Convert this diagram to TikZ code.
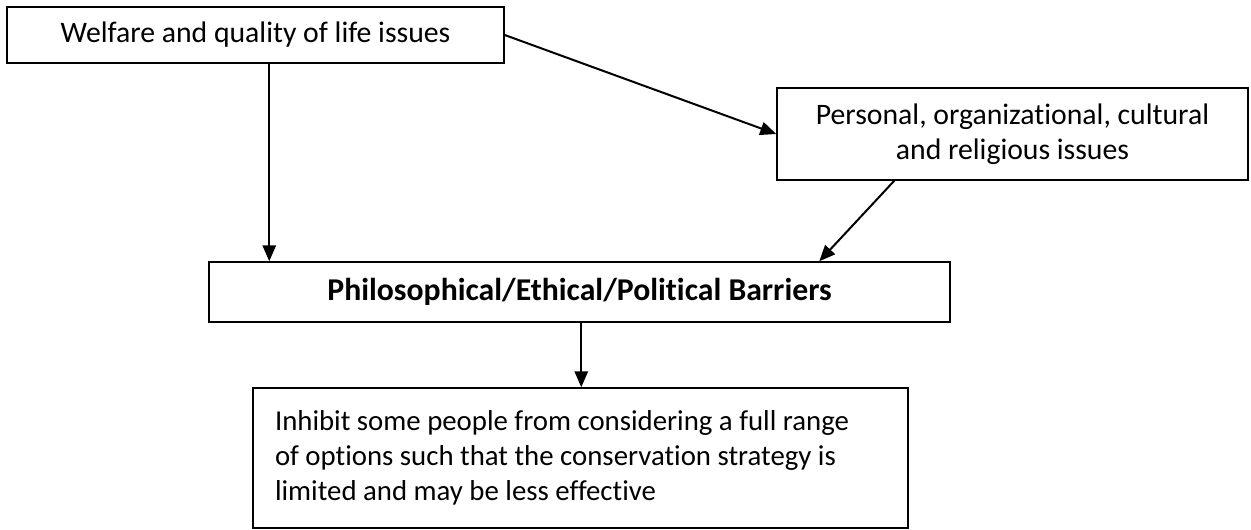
\documentclass[tikz,border=0pt]{standalone}
\usepackage{fontspec}
\setmainfont{Carlito}[Ligatures=NoCommon]
\usetikzlibrary{arrows.meta,calc}
\tikzset{
  box/.style={draw=black, line width=1.1pt, inner sep=0pt, align=center,
    font=\fontsize{22.3}{26.5}\selectfont},
  arr/.style={line width=1.5pt, -{Triangle[length=12pt,width=10pt]}}
}
\begin{document}
\begin{tikzpicture}[x=0.75pt,y=-0.75pt]
\useasboundingbox (0,0) rectangle (1251,529);
\node[box, minimum width=497*0.75pt, minimum height=56*0.75pt] (b1) at (255.5,35)
  {Welfare and quality of life issues};
\node[box, minimum width=471*0.75pt, minimum height=92*0.75pt] (b2) at (1012.5,134)
  {Personal, organizational, cultural\\and religious issues};
\node[box, minimum width=741*0.75pt, minimum height=60*0.75pt, font=\fontsize{23.8}{28}\selectfont\bfseries] (b3) at (579.5,292)
  {Philosophical/Ethical/Political Barriers};
\node[box, minimum width=655*0.75pt, minimum height=140*0.75pt, text width=611*0.75pt, align=flush left, font=\fontsize{21.6}{26.3}\selectfont] (b4) at (580.5,458)
  {Inhibit some people from considering a full range\\of options such that the conservation strategy is\\limited and may be less effective};
\draw[arr] (b1.east) -- (b2.west);
\coordinate (s1) at ($(b1.south west)+(263,0)$);
\draw[arr] (s1) -- (s1 |- b3.north);
\draw[arr] ($(b2.south west)+(118,0)$) -- ($(b3.north west)+(611,0)$);
\coordinate (s3) at ($(b3.south west)+(373,0)$);
\draw[arr] (s3) -- (s3 |- b4.north);
\end{tikzpicture}
\end{document}
